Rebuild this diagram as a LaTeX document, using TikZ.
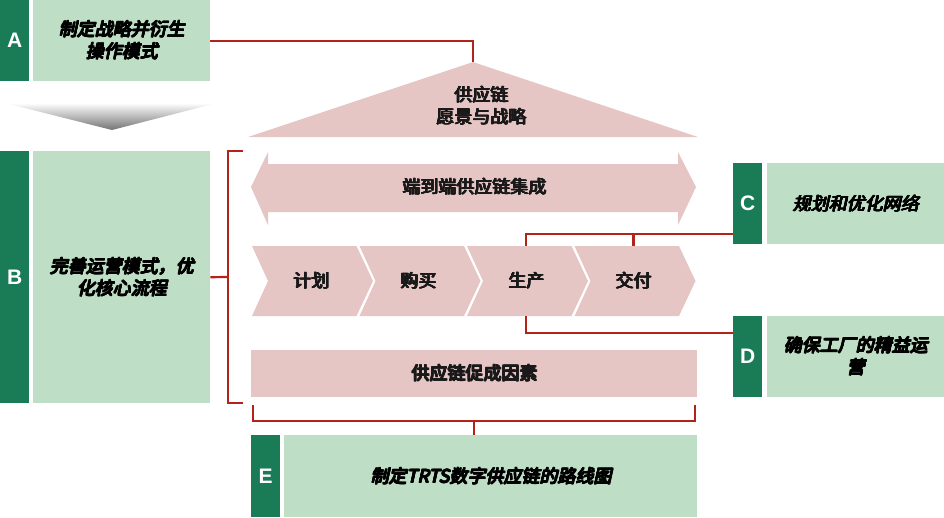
\documentclass[tikz,border=0pt]{standalone}
\usepackage{fontspec}
\setmainfont{Noto Sans CJK SC}
\newfontfamily\cjkI{Noto Sans CJK SC}[FakeSlant=0.22]
\newfontfamily\letterfont{Liberation Sans}
\newcommand\btext[3]{%
  \foreach \dx/\dy in {0/0,0.4/0,0.8/0,1.2/0,0/0.6,0.4/0.6,0.8/0.6,1.2/0.6}{\node[#1,xshift=\dx pt,yshift=\dy pt] at (#2) {#3};}}
\begin{document}
\begin{tikzpicture}[x=1pt,y=-1pt,
  dk/.style={fill=dkgreen,text=white,font=\letterfont\bfseries\fontsize{21}{24}\selectfont,inner sep=0,anchor=north west},
  lt/.style={fill=ltgreen,inner sep=0,anchor=north west},
  ltt/.style={text=black,font=\cjkI\fontsize{18}{22}\selectfont,inner sep=0,align=center},
  pk/.style={fill=pinkc,inner sep=0},
  pktext/.style={text=black!90,font=\fontsize{18}{22}\selectfont,align=center,inner sep=0},
  link/.style={draw=redl,line width=2.2pt}]
\definecolor{dkgreen}{HTML}{1A7B57}
\definecolor{ltgreen}{HTML}{BEDFC5}
\definecolor{pinkc}{HTML}{E6C5C5}
\definecolor{redl}{HTML}{B3231A}
\useasboundingbox (0,0) rectangle (944,517);
% A
\node[dk,minimum width=29,minimum height=81] (Ad) at (0,0) {A};
\node[lt,minimum width=177,minimum height=81] (A) at (33,0) {};
\btext{ltt}{A.center}{制定战略并衍生\\操作模式}
% gray chevron
\shade[top color=white,bottom color=black!55] (5,103) -- (217,103) -- (112,130) -- cycle;
% B
\node[dk,minimum width=29,minimum height=252] (Bd) at (0,151) {B};
\node[lt,minimum width=177,minimum height=252] (B) at (33,151) {};
\btext{ltt}{B.center}{完善运营模式，优\\化核心流程}
% roof
\coordinate (apex) at (473,62);
\fill[pinkc] (248,137) -- (apex) -- (698,137) -- cycle;
\coordinate (roof) at (481,106);
\btext{pktext}{roof}{供应链\\愿景与战略}
\draw[link] (A.east) -| (apex);
% double arrow
\fill[pinkc] (251,187) -- (268,152) -- (268,164) -- (678,164) -- (678,152) -- (696,187) -- (678,225) -- (678,212) -- (268,212) -- (268,225) -- cycle;
\coordinate (e2e) at (474,187);
\btext{pktext}{e2e}{端到端供应链集成}
% chevrons
\foreach \L/\t/\n in {252/计划/p1,359.5/购买/p2,467/生产/p3,574.5/交付/p4}{
  \fill[pinkc] (\L,246) -- (\L+104.5,246) -- (\L+121,281) -- (\L+104.5,316) -- (\L,316) -- (\L+16,281) -- cycle;
  \node[inner sep=0,minimum width=60,minimum height=70] (\n) at (\L+59,281) {};
  \btext{pktext}{\n.center}{\t}
}
% enablers
\node[pk,minimum width=446,minimum height=47,anchor=north west] (en) at (251,350) {};
\btext{pktext}{en.center}{供应链促成因素}
% B bracket
\draw[link] (243,151) -- (228,151) -- (228,403) -- (243,403);
\draw[link] (B.east) -- (228,277);
% C
\node[dk,minimum width=29,minimum height=81] (Cd) at (733,163) {C};
\node[lt,minimum width=177,minimum height=81] (C) at (767,163) {};
\btext{ltt}{C.center}{规划和优化网络}
\coordinate (cC) at (733,234);
\draw[link] (cC) -| (p3.north);
\draw[link] (p4.north) -- (p4.north |- cC);
% D
\node[dk,minimum width=29,minimum height=81] (Dd) at (733,316) {D};
\node[lt,minimum width=177,minimum height=81] (D) at (767,316) {};
\btext{ltt}{D.center}{确保工厂的精益运\\营}
\coordinate (cD) at (733,333);
\draw[link] (cD) -| (p3.south);
% E
\node[dk,minimum width=29,minimum height=82] (Ed) at (251,435) {E};
\node[lt,minimum width=413,minimum height=82] (E) at (284,435) {};
\btext{ltt}{E.center}{制定TRTS数字供应链的路线图}
\coordinate (ebr) at (474,421);
\draw[link] (253,405) -- (253,421) -- (695,421) -- (695,405);
\draw[link] (ebr) -- (ebr |- E.north);
\end{tikzpicture}
\end{document}
